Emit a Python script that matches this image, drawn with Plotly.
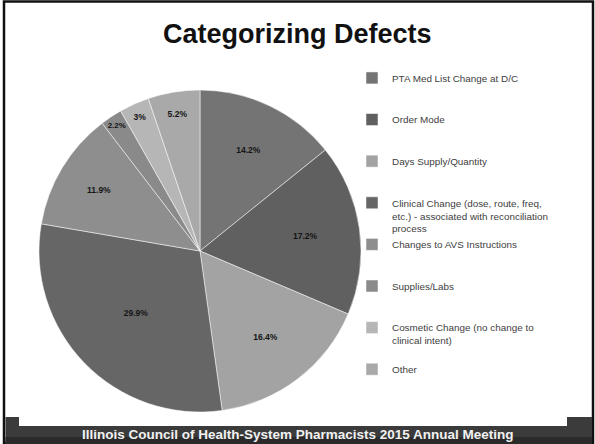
import plotly.graph_objects as go

categories = [
    "PTA Med List Change at D/C",
    "Order Mode",
    "Days Supply/Quantity",
    "Clinical Change (dose, route, freq,<br>etc.) - associated with reconciliation<br>process",
    "Changes to AVS Instructions",
    "Supplies/Labs",
    "Cosmetic Change (no change to<br>clinical intent)",
    "Other",
]
values = [14.2, 17.2, 16.4, 29.9, 11.9, 2.2, 3.0, 5.2]
colors = ["#747474", "#606060", "#a3a3a3", "#666666", "#8e8e8e", "#8a8a8a", "#b6b6b6", "#a9a9a9"]
title_text = "Categorizing Defects"
footer_text = "Illinois Council of Health-System Pharmacists 2015 Annual Meeting"

W, H = 595, 444

def pad(label, n=3):
    k = label.count("<br>") + 1
    return label + "<br>&nbsp;" * (n - k)

legend_labels = [pad(c) for c in categories]

def px(x):
    return x / W

def py(y):
    return 1 - y / H

cx, cy, r = 200, 251, 161

fig = go.Figure()
fig.add_trace(go.Pie(
    labels=legend_labels,
    values=values,
    sort=False,
    direction="clockwise",
    rotation=0,
    marker=dict(colors=colors, line=dict(color="white", width=0.5)),
    texttemplate="<b>%{value}%</b>",
    textposition="inside",
    insidetextorientation="horizontal",
    textfont=dict(family="Liberation Sans", size=8.5, color="#151515"),
    domain=dict(x=[px(cx - r), px(cx + r)], y=[py(cy + r), py(cy - r)]),
    hoverinfo="label+percent",
))

shapes = [
    dict(type="rect", xref="paper", yref="paper", x0=px(4), x1=px(593), y0=py(443), y1=py(1.5),
         line=dict(color="#111111", width=2.5), fillcolor="white", layer="below"),
    dict(type="rect", xref="paper", yref="paper", x0=px(5.5), x1=px(592), y0=py(444), y1=py(417),
         line=dict(width=0), fillcolor="#3b3b3b", layer="below"),
    dict(type="rect", xref="paper", yref="paper", x0=px(5.5), x1=px(592), y0=py(444), y1=py(437),
         line=dict(width=0), fillcolor="#2a2a2a", layer="below"),
    dict(type="rect", xref="paper", yref="paper", x0=px(19), x1=px(567), y0=py(426), y1=py(416),
         line=dict(width=0), fillcolor="white", layer="below"),
]

annotations = [
    dict(text="<b>" + title_text + "</b>", x=px(297), y=py(34), xref="paper", yref="paper",
         showarrow=False, font=dict(family="Liberation Sans", size=27, color="#111111"),
         xanchor="center", yanchor="middle"),
    dict(text="<b>" + footer_text + "</b>", x=px(298), y=py(434), xref="paper", yref="paper",
         showarrow=False, font=dict(family="Liberation Sans", size=13.5, color="#f2f2f2"),
         xanchor="center", yanchor="middle"),
]

fig.update_layout(
    width=W, height=H,
    margin=dict(l=0, r=0, t=0, b=0),
    paper_bgcolor="white",
    plot_bgcolor="white",
    showlegend=True,
    legend=dict(
        x=px(352), y=py(65), xanchor="left", yanchor="top",
        font=dict(family="Liberation Sans", size=9.9, color="#404040"),
        valign="top", bgcolor="rgba(0,0,0,0)", traceorder="normal",
    ),
    shapes=shapes,
    annotations=annotations,
)

fig.write_html("out.html")
